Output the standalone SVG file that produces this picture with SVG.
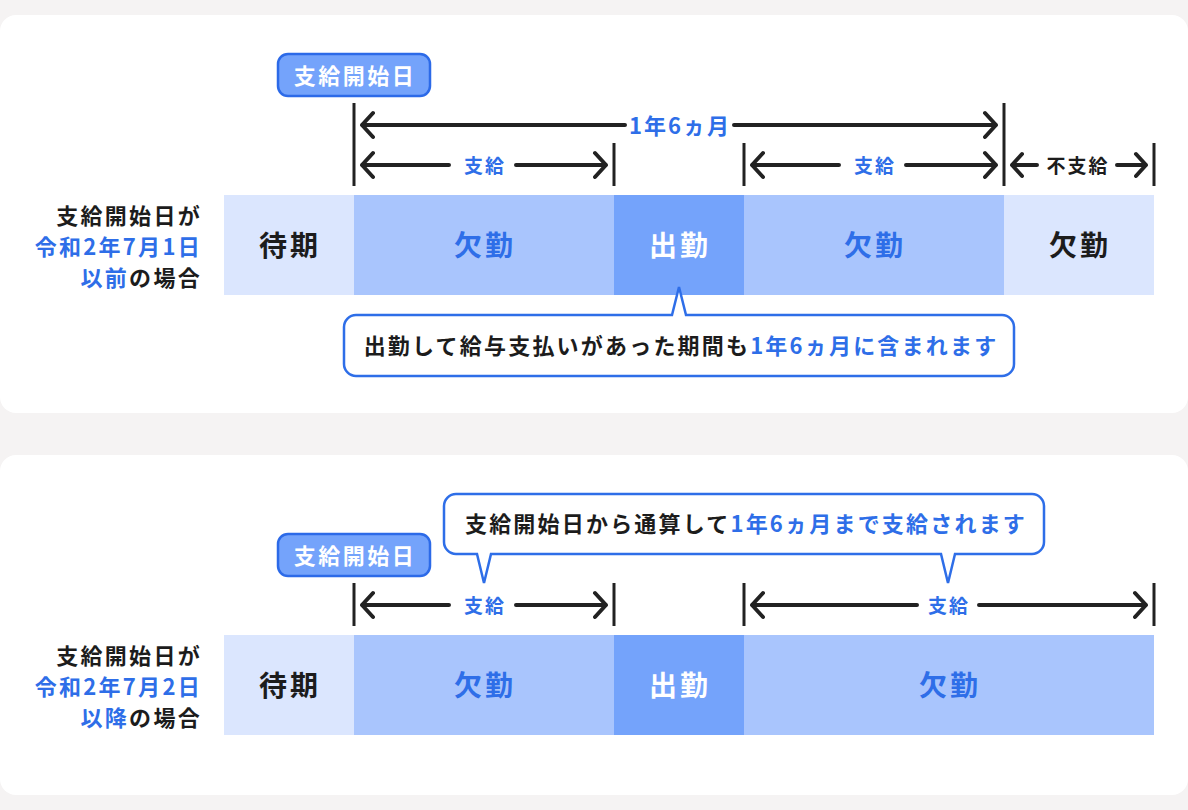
<svg xmlns="http://www.w3.org/2000/svg" width="1188" height="810" viewBox="0 0 1188 810">
<style>
text{font-family:"Noto Sans CJK JP","Noto Sans",sans-serif;font-weight:bold;dominant-baseline:central}
.blue{fill:#2e6ee8}
.dark{fill:#1c1c1c}
.white{fill:#ffffff}
.lbl{font-size:22px;letter-spacing:2.3px;text-anchor:end}
.bar{font-size:28px;letter-spacing:3px;text-anchor:middle}
.dim{font-size:19px;letter-spacing:2px;text-anchor:middle}
.dimL{font-size:22px;letter-spacing:2px;text-anchor:middle}
.badge rect{fill:#74a3fb;stroke:#2c6ae8;stroke-width:2.5}
.badge text{font-size:22px;letter-spacing:2.5px;text-anchor:middle;fill:#fff}
.tick{stroke:#222;stroke-width:3}
.arr{stroke:#222;stroke-width:4;fill:none;stroke-linecap:round;stroke-linejoin:round}
.call{fill:#fff;stroke:#2e6ee8;stroke-width:2.5}
.call text{font-size:22px;letter-spacing:2.2px;text-anchor:middle}
.c1{fill:#dbe6fe}.c2{fill:#a9c5fd}.c3{fill:#74a3fb}
</style>
<rect width="1188" height="810" fill="#f5f3f3"/>
<rect x="0" y="15" width="1188" height="398" rx="16" fill="#fff"/>
<rect x="0" y="455" width="1188" height="340" rx="16" fill="#fff"/>

<!-- Panel 1 -->
<g id="label1">
<text class="lbl dark" x="202" y="214">支給開始日が</text>
<text class="lbl blue" x="202" y="245">令和2年7月1日</text>
<text class="lbl" x="202" y="276"><tspan class="blue">以前</tspan><tspan class="dark">の場合</tspan></text>
</g>
<g id="badge1" class="badge">
<rect x="278" y="54" width="152" height="42" rx="10"/>
<text x="355" y="74">支給開始日</text>
</g>
<g id="bars1">
<g id="p1-wait"><rect class="c1" x="224" y="195" width="130" height="100"/><text class="bar dark" x="290" y="244">待期</text></g>
<g id="p1-abs1"><rect class="c2" x="354" y="195" width="260" height="100"/><text class="bar blue" x="485" y="244">欠勤</text></g>
<g id="p1-work"><rect class="c3" x="614" y="195" width="130" height="100"/><text class="bar white" x="680" y="244">出勤</text></g>
<g id="p1-abs2"><rect class="c2" x="744" y="195" width="260" height="100"/><text class="bar blue" x="875" y="244">欠勤</text></g>
<g id="p1-abs3"><rect class="c1" x="1004" y="195" width="150" height="100"/><text class="bar dark" x="1080" y="244">欠勤</text></g>
</g>
<g id="connectors1">
<line class="tick" x1="354" y1="103" x2="354" y2="186"/>
<line class="tick" x1="614" y1="143" x2="614" y2="186"/>
<line class="tick" x1="744" y1="143" x2="744" y2="186"/>
<line class="tick" x1="1004" y1="103" x2="1004" y2="186"/>
<line class="tick" x1="1154" y1="143" x2="1154" y2="186"/>
<!-- 1年6ヵ月 -->
<path class="arr" d="M362 125 H625 M734 125 H996 M373 113 L362 125 L373 137 M985 113 L996 125 L985 137"/>
<!-- 支給 -->
<path class="arr" d="M362 165 H449 M516 165 H606 M373 153 L362 165 L373 177 M595 153 L606 165 L595 177"/>
<path class="arr" d="M752 165 H839 M906 165 H996 M763 153 L752 165 L763 177 M985 153 L996 165 L985 177"/>
<!-- 不支給 -->
<path class="arr" d="M1012 165 H1037 M1117 165 H1146 M1022 154 L1012 165 L1022 176 M1136 154 L1146 165 L1136 176"/>
</g>
<text class="dimL blue" x="680" y="124">1年6ヵ月</text>
<text class="dim blue" x="485" y="164">支給</text>
<text class="dim blue" x="875" y="164">支給</text>
<text class="dim dark" x="1078" y="164">不支給</text>
<g id="callout1" class="call">
<path d="M356 315 H672 L679 287 L686 315 H1002 A12 12 0 0 1 1014 327 V364 A12 12 0 0 1 1002 376 H356 A12 12 0 0 1 344 364 V327 A12 12 0 0 1 356 315 Z"/>
<text x="681" y="344" stroke="none"><tspan class="dark">出勤して給与支払いがあった期間も</tspan><tspan class="blue">1年6ヵ月に含まれます</tspan></text>
</g>

<!-- Panel 2 -->
<g id="label2">
<text class="lbl dark" x="202" y="654">支給開始日が</text>
<text class="lbl blue" x="202" y="685">令和2年7月2日</text>
<text class="lbl" x="202" y="716"><tspan class="blue">以降</tspan><tspan class="dark">の場合</tspan></text>
</g>
<g id="badge2" class="badge">
<rect x="278" y="534" width="152" height="42" rx="10"/>
<text x="355" y="554">支給開始日</text>
</g>
<g id="bars2">
<g id="p2-wait"><rect class="c1" x="224" y="635" width="130" height="100"/><text class="bar dark" x="290" y="684">待期</text></g>
<g id="p2-abs1"><rect class="c2" x="354" y="635" width="260" height="100"/><text class="bar blue" x="485" y="684">欠勤</text></g>
<g id="p2-work"><rect class="c3" x="614" y="635" width="130" height="100"/><text class="bar white" x="680" y="684">出勤</text></g>
<g id="p2-abs2"><rect class="c2" x="744" y="635" width="410" height="100"/><text class="bar blue" x="950" y="684">欠勤</text></g>
</g>
<g id="connectors2">
<line class="tick" x1="354" y1="583" x2="354" y2="626"/>
<line class="tick" x1="614" y1="583" x2="614" y2="626"/>
<line class="tick" x1="744" y1="583" x2="744" y2="626"/>
<line class="tick" x1="1154" y1="583" x2="1154" y2="626"/>
<path class="arr" d="M362 605 H449 M516 605 H606 M373 593 L362 605 L373 617 M595 593 L606 605 L595 617"/>
<path class="arr" d="M752 605 H917 M979 605 H1146 M763 593 L752 605 L763 617 M1135 593 L1146 605 L1135 617"/>
</g>
<text class="dim blue" x="485" y="604">支給</text>
<text class="dim blue" x="949" y="604">支給</text>
<g id="callout2" class="call">
<path d="M456 494 H1032 A12 12 0 0 1 1044 506 V542 A12 12 0 0 1 1032 554 H955 L948 583 L941 554 H491 L484 583 L477 554 H456 A12 12 0 0 1 444 542 V506 A12 12 0 0 1 456 494 Z"/>
<text x="746" y="522" stroke="none"><tspan class="dark">支給開始日から通算して</tspan><tspan class="blue">1年6ヵ月まで支給されます</tspan></text>
</g>
</svg>
